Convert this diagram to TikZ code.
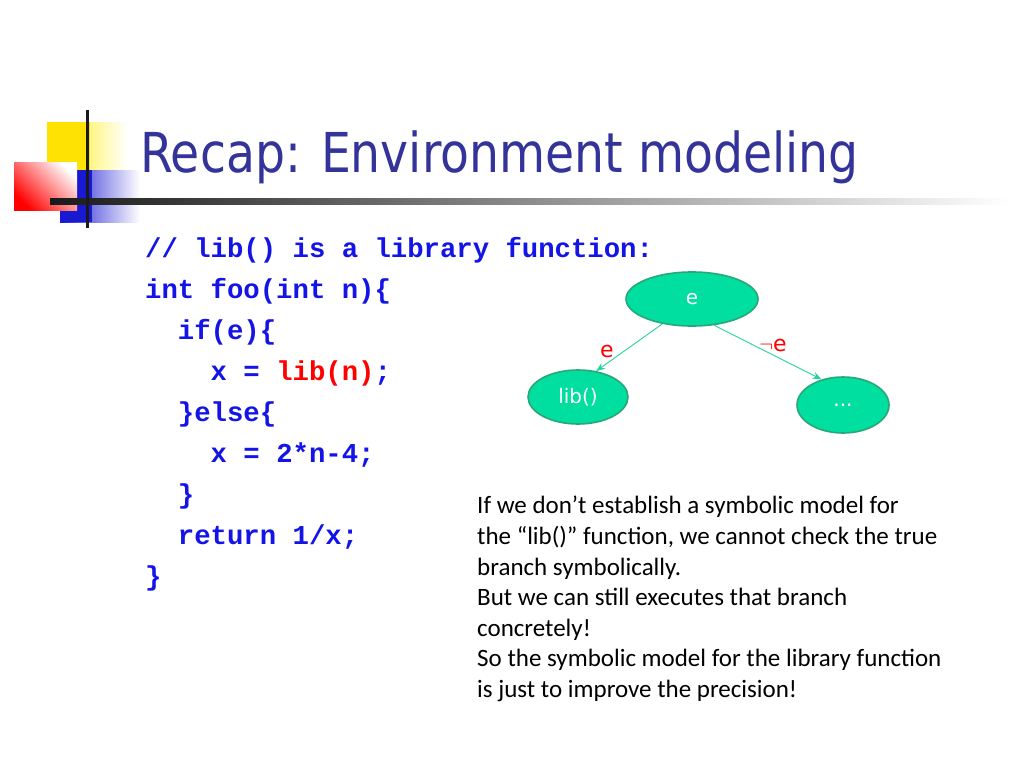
\documentclass[tikz,border=0pt]{standalone}
\usepackage{fontspec}
\setmainfont{Carlito}
\newfontfamily\codefont{Liberation Mono}
\newfontfamily\titlefont{DejaVu Sans}
\newfontfamily\nodefont{DejaVu Sans}
\usetikzlibrary{shapes.geometric,arrows.meta}
\definecolor{titleblue}{RGB}{51,51,153}
\definecolor{codeblue}{RGB}{20,20,230}
\definecolor{mint}{RGB}{0,222,160}
\definecolor{mintdark}{RGB}{40,168,118}
\definecolor{arrowmint}{RGB}{40,210,160}
\tikzset{
  tnode/.style={ellipse,draw=mintdark,line width=1.6pt,fill=mint,text=white,font=\nodefont\fontsize{20}{22}\selectfont,inner sep=0pt},
  tedge/.style={draw=arrowmint,line width=0.9pt,-{Stealth[length=9pt,width=7pt]}},
  elabel/.style={text=red,font=\nodefont\fontsize{22}{24}\selectfont},
  codeline/.style={anchor=base west,inner sep=0pt,font=\codefont\bfseries\fontsize{27.3}{30}\selectfont,text=codeblue}
}
\begin{document}
\begin{tikzpicture}[x=1pt,y=-1pt]
\useasboundingbox[fill=white] (0,0) rectangle (1024,768);
% decoration
\shade[left color=yellow!85!orange,right color=white] (47,122) rectangle (128,170);
\fill[yellow!85!orange] (47,122) rectangle (90,170);
\shade[left color=blue!80!black!90,right color=white] (60,170) rectangle (140,222);
\fill[blue!80!black!90] (60,170) rectangle (92,222);
\shade[left color=white,right color=red,shading angle=-45] (14,162) rectangle (77,210);
\shade[left color=black!90,right color=white] (50,198) rectangle (1010,204);
\draw[line width=3pt,black!90] (87,110) -- (87,228);
% title
\node[anchor=base west,inner sep=0pt,text=titleblue,font=\titlefont\fontsize{55}{60}\selectfont,xscale=0.86] (title) at (140,172) {Recap: Environment modeling};
% code
\node[codeline] (c1) at (145,257) {// lib() is a library function:};
\node[codeline] (c2) at (145,298) {int foo(int n)\{};
\node[codeline] (c3) at (145,339) {\ \ if(e)\{};
\node[codeline] (c4) at (145,380) {\ \ \ \ x = \textcolor{red}{lib(n)};};
\node[codeline] (c5) at (145,421) {\ \ \}else\{};
\node[codeline] (c6) at (145,462) {\ \ \ \ x = 2*n-4;};
\node[codeline] (c7) at (145,503) {\ \ \}};
\node[codeline] (c8) at (145,544) {\ \ return 1/x;};
\node[codeline] (c9) at (145,585) {\}};
% tree
\node[tnode,minimum width=132pt,minimum height=54pt] (e) at (692,299) {e};
\node[tnode,minimum width=100pt,minimum height=54pt] (lib) at (578,397) {lib()};
\node[tnode,minimum width=92pt,minimum height=56pt] (dots) at (843,405) {...};
\draw[tedge] (e.220) -- (lib.55);
\draw[tedge] (e.-50) -- (dots.130);
\node[elabel] (le) at (607,351) {e};
\node[elabel] (lne) at (773,345) {$\neg$e};
% paragraph
\node[anchor=north west,inner sep=0pt,align=left,font=\fontsize{25}{30.6}\selectfont] (para) at (477,496) {If we don’t establish a symbolic model for\\the “lib()” function, we cannot check the true\\branch symbolically.\\But we can still executes that branch\\concretely!\\So the symbolic model for the library function\\is just to improve the precision!};
\end{tikzpicture}
\end{document}
